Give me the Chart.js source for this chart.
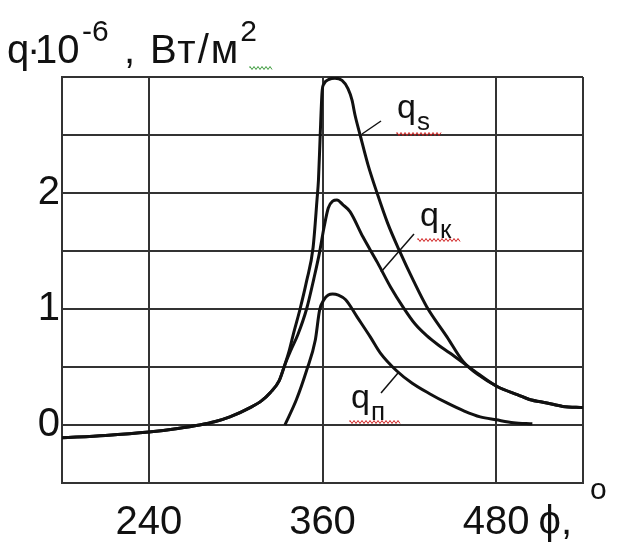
<!DOCTYPE html>
<html>
<head>
<meta charset="utf-8">
<script src="https://cdn.jsdelivr.net/npm/chart.js@4/dist/chart.umd.min.js"></script>
<style>
  html, body { margin: 0; padding: 0; background: #fff; }
</style>
</head>
<body>
<canvas id="chart" width="619" height="545"></canvas>
<script>
// crank angle (deg) and heat flux q*10^-6, W/m2
var xTicks = [180, 240, 360, 480, 540];
var xLabels = [240, 360, 480];
var yLabels = [0, 1, 2];

// q_k (convective), long tail from the left
var phiK = [180, 210, 240, 260, 275, 286, 296, 310, 318, 324, 330, 334, 338, 343, 349, 354, 358, 361, 364, 367, 370, 374, 379, 388, 398, 407, 416, 424, 432, 440, 448, 460, 470, 481, 495, 503, 515, 526, 540];
var qK = [-0.11, -0.09, -0.06, -0.03, 0.0, 0.03, 0.07, 0.15, 0.21, 0.28, 0.38, 0.52, 0.64, 0.78, 1.0, 1.26, 1.49, 1.7, 1.87, 1.93, 1.94, 1.9, 1.84, 1.62, 1.4, 1.19, 1.01, 0.87, 0.77, 0.69, 0.62, 0.51, 0.42, 0.33, 0.26, 0.22, 0.19, 0.16, 0.15];

// q_s (total)
var phiS = [180, 210, 240, 260, 275, 286, 296, 310, 318, 324, 330, 334, 337, 340, 344.5, 349, 353.5, 356.2, 357.2, 358.3, 359.7, 361, 364.5, 368.6, 373.5, 377.6, 380.4, 382.5, 386, 391.5, 397.7, 405, 413.6, 423, 432, 446, 457, 468, 481, 495, 503, 515, 526, 540];
var qS = [-0.11, -0.09, -0.06, -0.03, 0.0, 0.03, 0.07, 0.15, 0.21, 0.28, 0.38, 0.52, 0.64, 0.79, 1.0, 1.24, 1.53, 1.94, 2.11, 2.46, 2.87, 2.94, 2.98, 2.99, 2.97, 2.9, 2.8, 2.67, 2.5, 2.24, 2.0, 1.74, 1.49, 1.24, 1.02, 0.76, 0.55, 0.43, 0.33, 0.26, 0.22, 0.19, 0.16, 0.15];

// q_p (radiation)
var phiP = [334, 342, 349, 355, 358, 361, 364, 367, 371, 376, 384, 393, 400, 411, 422, 434, 446, 458, 469, 480, 492, 505];
var qP = [0, 0.22, 0.47, 0.73, 0.99, 1.08, 1.12, 1.13, 1.12, 1.08, 0.93, 0.76, 0.62, 0.47, 0.36, 0.27, 0.19, 0.12, 0.07, 0.045, 0.02, 0.01];

var FONT = '"Liberation Sans", Arial, sans-serif';
var INK = '#111';

function toPoints(xs, ys) {
    return xs.map(function (x, i) { return { x: x, y: ys[i] }; });
}

function series(label, xs, ys) {
    return {
        label: label,
        data: toPoints(xs, ys),
        borderColor: INK,
        borderWidth: 3,
        pointRadius: 0,
        fill: false,
        cubicInterpolationMode: 'monotone'
    };
}

function wavy(ctx, x1, x2, y, color) {
    ctx.save();
    ctx.strokeStyle = color;
    ctx.lineWidth = 1;
    ctx.beginPath();
    ctx.moveTo(x1, y);
    for (var x = x1, k = 0; x <= x2; x += 2, k++) {
        ctx.lineTo(x, y + (k % 2 ? 1.5 : -1.5));
    }
    ctx.stroke();
    ctx.restore();
}

function line(ctx, x1, y1, x2, y2) {
    ctx.beginPath();
    ctx.moveTo(x1, y1);
    ctx.lineTo(x2, y2);
    ctx.stroke();
}

// q with a subscript letter
function qLabel(ctx, sub, x, y) {
    ctx.font = '34px ' + FONT;
    ctx.fillText('q', x, y);
    var w = ctx.measureText('q').width;
    ctx.font = '26px ' + FONT;
    ctx.fillText(sub, x + w + 1, y + 12);
}

var textPlugin = {
    id: 'texts',
    afterDraw: function (chart) {
        var ctx = chart.ctx;
        var xs = chart.scales.x;
        ctx.save();
        ctx.fillStyle = INK;
        ctx.strokeStyle = INK;
        ctx.textAlign = 'left';
        ctx.textBaseline = 'alphabetic';

        // axis title top-left
        ctx.font = '40px ' + FONT;
        ctx.fillText('q', 7, 63);
        ctx.fillText('·', 27, 63);
        ctx.fillText('10', 35, 63);
        ctx.font = '30px ' + FONT;
        ctx.fillText('-6', 82, 41);
        ctx.font = '40px ' + FONT;
        ctx.fillText(',', 124, 63);
        ctx.letterSpacing = '2px';
        ctx.fillText('Вт/м', 150, 63);
        var w = ctx.measureText('Вт/м').width;
        ctx.letterSpacing = '0px';
        ctx.font = '30px ' + FONT;
        ctx.fillText('2', 150 + w, 41);
        wavy(ctx, 250, 272, 68, '#3a9a3a');

        // x axis unit after the 480 label
        ctx.font = '40px ' + FONT;
        var xPhi = xs.getPixelForValue(480) + ctx.measureText('480').width / 2 + 9;
        ctx.textBaseline = 'middle';
        ctx.fillText('ϕ,', xPhi, xs.top + 40);
        ctx.textBaseline = 'alphabetic';
        ctx.font = '30px ' + FONT;
        ctx.fillText('o', 590, 499);

        // curve labels with leaders
        ctx.lineWidth = 1.5;
        qLabel(ctx, 's', 397, 118);
        line(ctx, 381, 121, 362, 134);
        wavy(ctx, 397, 442, 134, '#d02020');

        qLabel(ctx, 'к', 420, 226);
        line(ctx, 414, 234, 381, 272);
        wavy(ctx, 418, 460, 240, '#d02020');

        qLabel(ctx, 'п', 351, 408);
        line(ctx, 398, 373, 381, 393);
        wavy(ctx, 350, 400, 422, '#d02020');

        ctx.restore();
    }
};

var ctx = document.getElementById('chart').getContext('2d');
var myChart = new Chart(ctx, {
    type: 'line',
    data: {
        datasets: [
            series('qs', phiS, qS),
            series('qk', phiK, qK),
            series('qp', phiP, qP)
        ]
    },
    options: {
        responsive: false,
        animation: false,
        layout: { padding: { left: 0, right: 36, top: 77, bottom: 0 } },
        plugins: { legend: { display: false }, tooltip: { enabled: false } },
        scales: {
            x: {
                type: 'linear',
                min: 180,
                max: 540,
                afterBuildTicks: function (scale) {
                    scale.ticks = xTicks.map(function (v) { return { value: v }; });
                },
                afterFit: function (scale) { scale.height = 62; },
                grid: { color: '#333', lineWidth: 2, drawTicks: false },
                border: { color: '#333', width: 2 },
                ticks: {
                    padding: 16,
                    color: INK,
                    font: { family: FONT, size: 40 },
                    maxRotation: 0,
                    callback: function (v) { return xLabels.indexOf(v) >= 0 ? String(v) : ''; }
                }
            },
            y: {
                min: -0.5,
                max: 3,
                afterFit: function (scale) { scale.width = 62; },
                grid: { color: '#333', lineWidth: 2, drawTicks: false },
                border: { color: '#333', width: 2 },
                ticks: {
                    stepSize: 0.5,
                    padding: 2,
                    color: INK,
                    font: { family: FONT, size: 40 },
                    callback: function (v) { return yLabels.indexOf(v) >= 0 ? String(v) : ''; }
                }
            }
        }
    },
    plugins: [textPlugin]
});
</script>
</body>
</html>
